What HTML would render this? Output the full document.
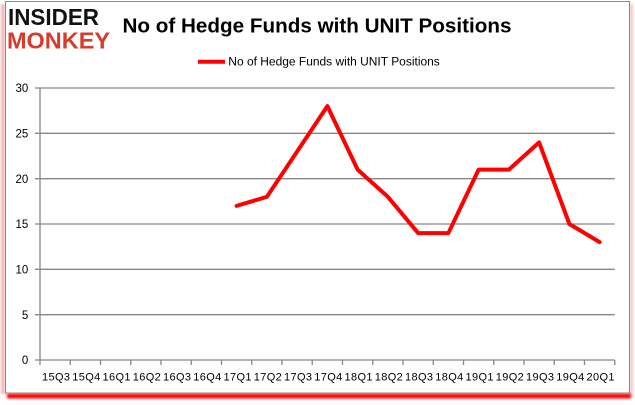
<!DOCTYPE html>
<html><head><meta charset="utf-8"><style>
html,body{margin:0;padding:0;background:#fff;}
svg{display:block;}
</style></head><body>
<svg width="635" height="405" viewBox="0 0 635 405" xmlns="http://www.w3.org/2000/svg" font-family="'Liberation Sans', sans-serif">
<defs>
<filter id="b" x="-5%" y="-100%" width="110%" height="300%"><feGaussianBlur stdDeviation="1.2"/></filter>
<filter id="b2" x="-100%" y="-5%" width="300%" height="110%"><feGaussianBlur stdDeviation="1"/></filter>
</defs>
<rect x="0" y="0" width="635" height="405" fill="#fff"/>
<!-- shadows -->
<rect x="1" y="4" width="4" height="390" fill="#f5b8b8" filter="url(#b2)"/>
<rect x="630" y="4" width="3" height="392" fill="#f7c4c4" filter="url(#b2)"/>
<rect x="7" y="393.5" width="624" height="5" fill="#ff0000" filter="url(#b)"/>
<!-- frame -->
<rect x="5.5" y="1.5" width="624" height="391.5" fill="#fff" stroke="#8a8a8a" stroke-width="1"/>
<!-- logo -->
<text x="8" y="25" font-size="23" font-weight="bold" fill="#111" textLength="91" lengthAdjust="spacingAndGlyphs">INSIDER</text>
<text x="7" y="48.3" font-size="23" font-weight="bold" fill="#d63b2b" textLength="103" lengthAdjust="spacingAndGlyphs">MONKEY</text>
<!-- title -->
<text x="122.5" y="32.3" font-size="20.5" font-weight="bold" fill="#000" textLength="389" lengthAdjust="spacingAndGlyphs">No of Hedge Funds with UNIT Positions</text>
<!-- legend -->
<line x1="198" y1="61.7" x2="225" y2="61.7" stroke="#ff0000" stroke-width="4"/>
<text x="228.3" y="65.7" font-size="11.5" fill="#000" textLength="211.5" lengthAdjust="spacingAndGlyphs">No of Hedge Funds with UNIT Positions</text>
<!-- grid -->
<g stroke="#868686" stroke-width="1.3">
<line x1="35" y1="88" x2="614.75" y2="88"/>
<line x1="35" y1="133.33" x2="614.75" y2="133.33"/>
<line x1="35" y1="178.67" x2="614.75" y2="178.67"/>
<line x1="35" y1="224" x2="614.75" y2="224"/>
<line x1="35" y1="269.33" x2="614.75" y2="269.33"/>
<line x1="35" y1="314.67" x2="614.75" y2="314.67"/>
<line x1="35" y1="360" x2="614.75" y2="360"/>
<line x1="40" y1="88" x2="40" y2="360"/>
<line x1="40" y1="360" x2="40" y2="365"/>
<line x1="70.25" y1="360" x2="70.25" y2="365"/>
<line x1="100.5" y1="360" x2="100.5" y2="365"/>
<line x1="130.75" y1="360" x2="130.75" y2="365"/>
<line x1="161" y1="360" x2="161" y2="365"/>
<line x1="191.25" y1="360" x2="191.25" y2="365"/>
<line x1="221.5" y1="360" x2="221.5" y2="365"/>
<line x1="251.75" y1="360" x2="251.75" y2="365"/>
<line x1="282" y1="360" x2="282" y2="365"/>
<line x1="312.25" y1="360" x2="312.25" y2="365"/>
<line x1="342.5" y1="360" x2="342.5" y2="365"/>
<line x1="372.75" y1="360" x2="372.75" y2="365"/>
<line x1="403" y1="360" x2="403" y2="365"/>
<line x1="433.25" y1="360" x2="433.25" y2="365"/>
<line x1="463.5" y1="360" x2="463.5" y2="365"/>
<line x1="493.75" y1="360" x2="493.75" y2="365"/>
<line x1="524" y1="360" x2="524" y2="365"/>
<line x1="554.25" y1="360" x2="554.25" y2="365"/>
<line x1="584.5" y1="360" x2="584.5" y2="365"/>
<line x1="614.75" y1="360" x2="614.75" y2="365"/>
</g>
<!-- y labels -->
<g font-size="11.5" fill="#000" text-anchor="end">
<text x="28.3" y="92.2">30</text>
<text x="28.3" y="137.5">25</text>
<text x="28.3" y="182.9">20</text>
<text x="28.3" y="228.2">15</text>
<text x="28.3" y="273.5">10</text>
<text x="28.3" y="318.9">5</text>
<text x="28.3" y="364.2">0</text>
</g>
<!-- x labels -->
<g font-size="11" fill="#000" text-anchor="middle" lengthAdjust="spacingAndGlyphs">
<text x="56" y="380.7" textLength="28">15Q3</text>
<text x="86.3" y="380.7" textLength="28">15Q4</text>
<text x="116.5" y="380.7" textLength="28">16Q1</text>
<text x="146.8" y="380.7" textLength="28">16Q2</text>
<text x="177" y="380.7" textLength="28">16Q3</text>
<text x="207.3" y="380.7" textLength="28">16Q4</text>
<text x="237.5" y="380.7" textLength="28">17Q1</text>
<text x="267.8" y="380.7" textLength="28">17Q2</text>
<text x="298" y="380.7" textLength="28">17Q3</text>
<text x="328.3" y="380.7" textLength="28">17Q4</text>
<text x="358.5" y="380.7" textLength="28">18Q1</text>
<text x="388.8" y="380.7" textLength="28">18Q2</text>
<text x="419" y="380.7" textLength="28">18Q3</text>
<text x="449.3" y="380.7" textLength="28">18Q4</text>
<text x="479.5" y="380.7" textLength="28">19Q1</text>
<text x="509.8" y="380.7" textLength="28">19Q2</text>
<text x="540" y="380.7" textLength="28">19Q3</text>
<text x="570.3" y="380.7" textLength="28">19Q4</text>
<text x="600.5" y="380.7" textLength="28">20Q1</text>
</g>
<!-- series -->
<polyline fill="none" stroke="#ff0000" stroke-width="4" stroke-linejoin="round" stroke-linecap="round"
points="236.63,205.87 266.88,196.8 297.13,151.47 327.38,106.13 357.63,169.6 387.88,196.8 418.13,233.07 448.38,233.07 478.63,169.6 508.88,169.6 539.13,142.4 569.38,224 599.63,242.13"/>
</svg>
</body></html>
